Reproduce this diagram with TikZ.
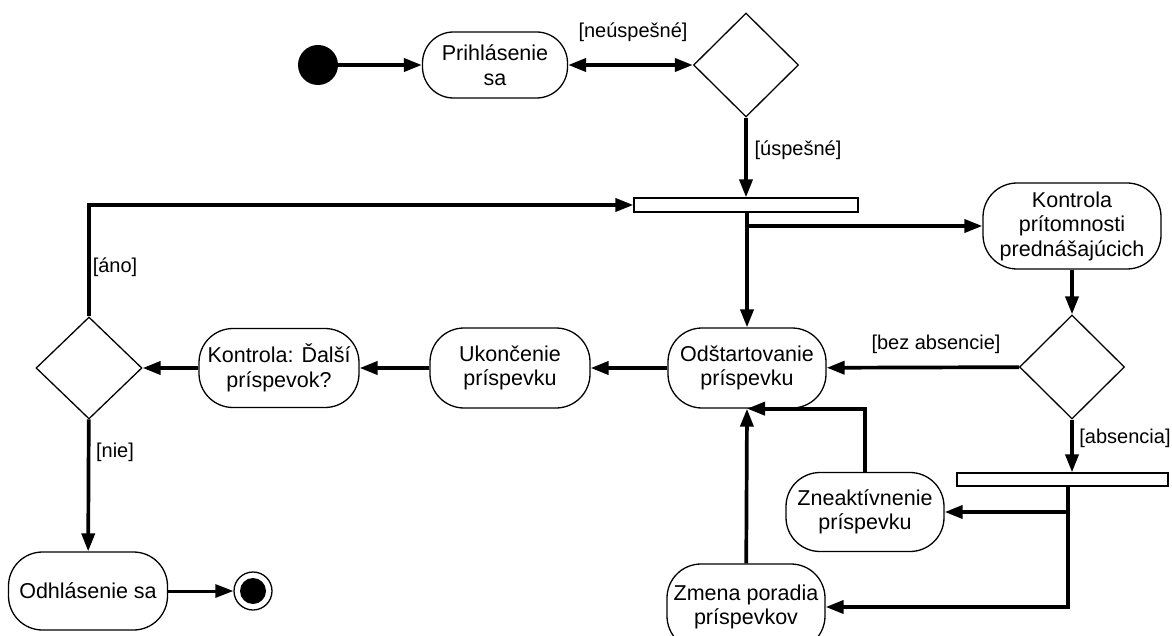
\documentclass[tikz,border=0pt]{standalone}
\usepackage{fontspec}
\setmainfont{Liberation Sans}
\usetikzlibrary{shapes.geometric,arrows.meta}

\newcommand{\actfont}{\fontsize{21.5pt}{24.5pt}\selectfont}
\newcommand{\guardfont}{\fontsize{20pt}{23pt}\selectfont}

\tikzset{
  act/.style={draw, line width=1.3pt, rounded corners=34pt, align=center,
    inner sep=0pt, font=\actfont},
  dec/.style={diamond, draw, line width=1.3pt, inner sep=0pt,
    minimum width=105pt, minimum height=104pt},
  forkbar/.style={draw, fill=white, line width=1.3pt, inner sep=0pt},
  flow/.style={line width=3.7pt, -{Triangle[length=18pt,width=13pt]}},
  guard/.style={font=\guardfont, inner sep=0pt}
}

\begin{document}
\begin{tikzpicture}[x=1pt, y=-1pt]
\clip (0,0) rectangle (1172,636);
\fill[white] (0,0) rectangle (1172,636);

% activities and control nodes
\node[circle, fill=black, minimum size=40pt, inner sep=0pt] (start) at (318,65) {};
\node[act, rounded corners=31pt, minimum width=145pt, minimum height=66pt] (prihl) at (495,65) {Prihlásenie\\sa};
\node[dec] (d1) at (746,65) {};
\node[forkbar, minimum width=224pt, minimum height=14pt] (bar1) at (746,205) {};
\node[act, minimum width=158pt, minimum height=80pt] (od) at (747,368) {Odštartovanie\\príspevku};
\node[act, minimum width=178pt, minimum height=86pt] (kp) at (1072,226) {Kontrola\\prítomnosti\\prednášajúcich};
\node[dec] (d2) at (1072,367) {};
\node[act, minimum width=160pt, minimum height=80pt] (uk) at (510,368) {Ukončenie\\príspevku};
\node[act, minimum width=160pt, minimum height=79pt] (kd) at (279,368) {Kontrola: Ďalší\\príspevok?};
\node[dec, minimum width=106pt, minimum height=102pt] (d3) at (89,368) {};
\node[act, minimum width=159pt, minimum height=78pt] (odh) at (88,591) {Odhlásenie sa};
\node[circle, draw, line width=1.3pt, minimum size=38pt, inner sep=0pt,
  path picture={\fill (path picture bounding box.center) circle (13pt);}] (end) at (253,591) {};
\node[forkbar, minimum width=211pt, minimum height=13pt] (bar2) at (1062.5,479.5) {};
\node[act, minimum width=158pt, minimum height=79pt] (zn) at (865,512) {Zneaktívnenie\\príspevku};
\node[act, minimum width=158pt, minimum height=86pt] (zm) at (746,607) {Zmena poradia\\príspevkov};

% guard labels
\node[guard] (lneusp) at (633,32) {[neúspešné]};
\node[guard] (lusp) at (798,150) {[úspešné]};
\node[guard] (lbez) at (936,344) {[bez absencie]};
\node[guard] (labs) at (1125,438) {[absencia]};
\node[guard] (lano) at (115,267) {[áno]};
\node[guard] (lnie) at (115,452) {[nie]};

% control flow
\coordinate (j2) at (1068,486);
\draw[flow] (start) -- (prihl);
\draw[flow, {Triangle[length=18pt,width=13pt]}-{Triangle[length=18pt,width=13pt]}] (prihl) -- (d1);
\draw[flow] (d1) -- (d1 |- bar1.north);
\draw[flow] (bar1.south -| od) -- (od);
\draw[flow] (od.north |- kp.west) -- (kp.west);
\draw[flow] (kp) -- (d2);
\draw[flow] (d2) -- (od);
\draw[flow] (d2) -- (d2 |- bar2.north);
\draw[flow] (j2) |- (zm.east);
\draw[flow] (j2 |- zn.east) -- (zn.east);
\draw[flow] (zn.north) |- (od.south);
\draw[flow] (zm) -- (od.south);
\draw[flow] (od) -- (uk);
\draw[flow] (uk) -- (kd);
\draw[flow] (kd) -- (d3);
\draw[flow] (d3.north) |- (bar1.west);
\draw[flow] (d3) -- (odh);
\draw[flow, line width=3pt] (odh) -- (end);
\end{tikzpicture}
\end{document}
